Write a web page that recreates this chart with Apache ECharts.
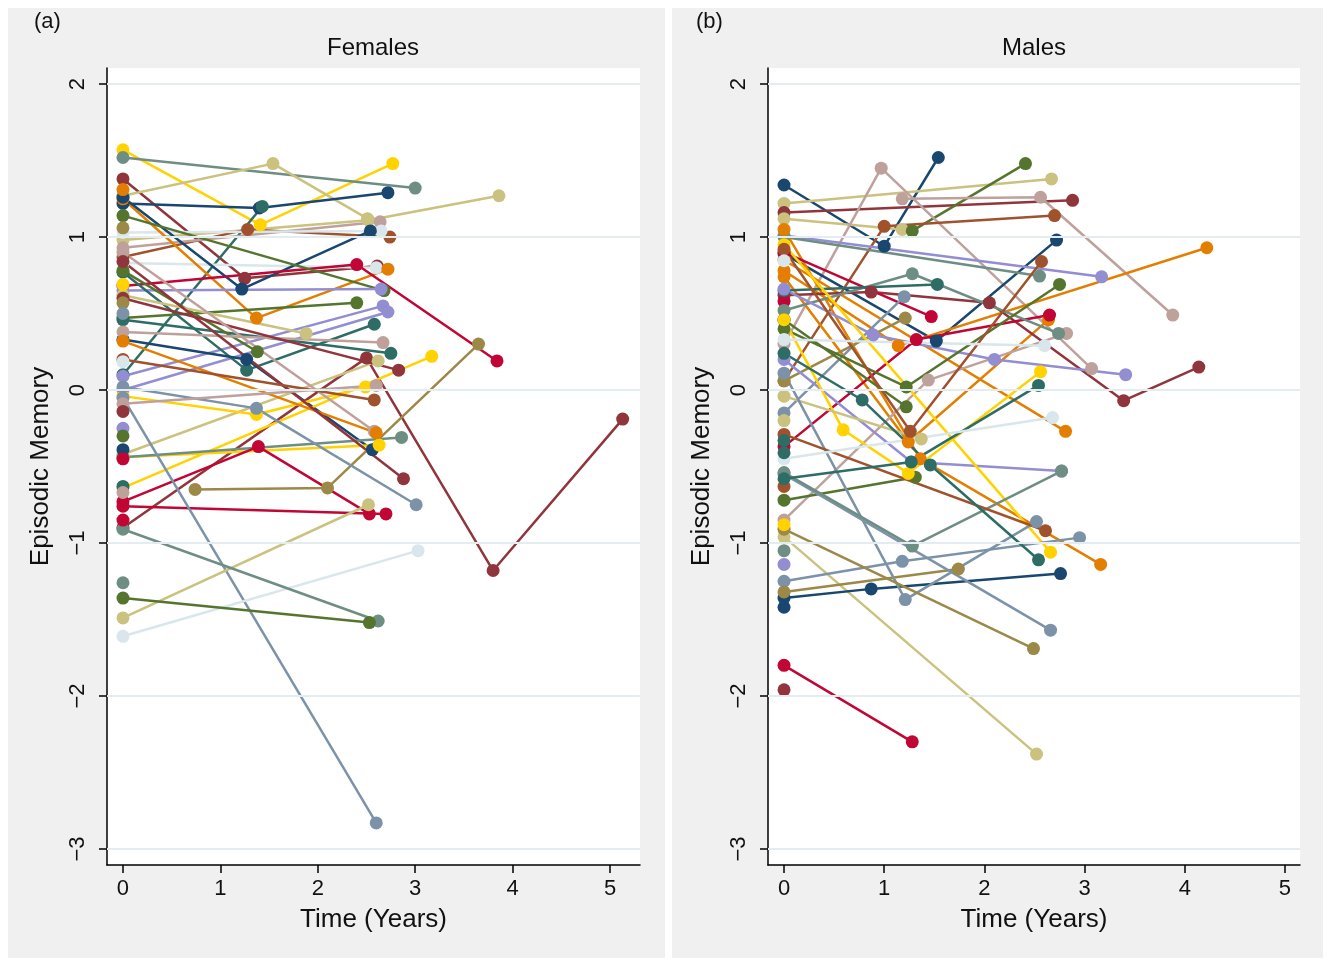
<!DOCTYPE html>
<html><head><meta charset="utf-8">
<script src="https://cdn.jsdelivr.net/npm/echarts@6/dist/echarts.min.js"></script>
<style>html,body{margin:0;padding:0;background:#fff}#c{width:1331px;height:963px}</style>
</head><body><div id="c"></div>
<script>
// Stata s2color palette
const palette = {
  navy:'#1a476f', maroon:'#90353b', forest:'#55752f', dkorange:'#e37e00', teal:'#6e8e84',
  crimson:'#c10534', lavender:'#938dd2', khaki:'#cac27e', sienna:'#a0522d', emidblue:'#7b92a8',
  emerald:'#2d6d66', brown:'#9c8847', erose:'#bfa19c', gold:'#ffd200', bluishgray:'#d9e6eb'
};
const xTicks = [0,1,2,3,4,5];
const yTicks = [-3,-2,-1,0,1,2];
const panelTitles = ['Females','Males'];
const panelTags = ['(a)','(b)'];

// ---------- Females ----------
const femaleColors = ['gold','teal','maroon','khaki','khaki','navy','emerald','sienna','erose','bluishgray',
  'bluishgray','dkorange','navy','crimson','forest','lavender','forest','lavender','lavender','emerald',
  'emerald','navy','forest','khaki','erose','maroon','khaki','maroon','gold','gold',
  'gold','erose','dkorange','teal','crimson','crimson','maroon','brown','emidblue','emidblue',
  'khaki','bluishgray','teal','forest','teal','sienna','erose',
  'gold','brown','brown','emidblue','bluishgray','maroon','lavender','forest','navy','emerald','erose','crimson','crimson','dkorange'];
const femaleTimes = [[0,1.41,2.77],[0,3.0],[0,1.25,2.61],[0,1.54,2.51],[0,2.52,3.86],[0,1.40,2.72],[0,1.43],[0,1.28,2.74],[0,2.64],[0,2.65],
  [0,2.60],[0,1.37,2.72],[0,1.22,2.54],[0,2.40,3.84],[0,2.68],[0,2.65],[0,2.40],[0,2.67],[0,2.72],[0,2.75],
  [0,1.27,2.58],[0,1.27,2.56],[0,1.38],[0,1.88],[0,2.67],[0,2.50,3.80,5.13],[0,2.62],[0,2.83],[0,3.17],[0,1.37,2.49],
  [0,2.63],[0,2.58],[0,2.60],[0,2.86],[0,1.39,2.53],[0,2.70],[0,2.88],[0.74,2.10,3.65],[0,1.37,3.01],[0,2.60],
  [0,2.52],[0,3.03],[0,2.62],[0,2.53],[0],[0,2.58],[0,2.60],
  [0],[0],[0],[0],[0],[0],[0],[0],[0],[0],[0],[0],[0],[0]];
const femaleValues = [[1.57,1.08,1.48],[1.52,1.32],[1.38,0.73,0.81],[1.27,1.48,1.12],[0.98,1.11,1.27],[1.22,1.19,1.29],[0.10,1.20],[0.87,1.05,1.00],[0.93,1.10],[1.03,1.04],
  [0.83,0.80],[1.25,0.47,0.79],[1.26,0.66,1.04],[0.68,0.82,0.19],[1.14,0.65],[0.65,0.66],[0.47,0.57],[0.09,0.55],[0.00,0.51],[0.46,0.24],
  [0.77,0.13,0.43],[0.33,0.20,-0.39],[0.78,0.25],[0.62,0.37],[0.38,0.31],[-0.90,0.21,-1.18,-0.19],[-0.42,0.19],[0.60,0.13],[-0.64,0.22],[-0.04,-0.16,0.02],
  [-0.44,-0.36],[0.90,-0.27],[0.32,-0.28],[-0.44,-0.31],[-0.73,-0.37,-0.81],[-0.76,-0.81],[0.84,-0.58],[-0.65,-0.64,0.30],[0.02,-0.12,-0.75],[-0.05,-2.83],
  [-1.49,-0.75],[-1.61,-1.05],[-0.91,-1.51],[-1.36,-1.52],[-1.26],[0.20,-0.065],[-0.09,0.03],
  [0.69],[1.06],[0.57],[0.50],[0.185],[-0.14],[-0.25],[-0.30],[-0.39],[-0.63],[-0.67],[-0.85],[-0.45],[1.31]];

// ---------- Males ----------
const maleColors = ['navy','khaki','maroon','khaki','forest','erose','erose','sienna','navy','lavender',
  'teal','dkorange','dkorange','dkorange','dkorange','erose','maroon','crimson','crimson','crimson',
  'crimson','teal','emerald','emidblue','brown','lavender','lavender','forest','forest','forest',
  'gold','gold','khaki','khaki','khaki','navy','navy','emidblue','brown','emidblue',
  'emidblue','brown','teal','crimson','maroon','lavender','sienna','sienna','sienna','emerald',
  'emerald','bluishgray','bluishgray','bluishgray','emerald','emerald','gold','teal'];
const maleTimes = [[0,1.0,1.54],[0,2.67],[0,2.88],[0,1.18],[1.28,2.41],[0,0.97,3.07],[1.18,2.56,3.88],[0,1.0,2.70],[0,1.52,2.72],[0,3.17],
  [0,2.55],[0,1.36,3.16],[0,1.24,2.64],[0,2.81],[0,1.14,4.22],[0,1.44,2.82],[0,0.87,2.05,3.39,4.14],[0,1.47],[0,1.32,2.65],[0],
  [0],[0,1.28,2.74],[0,1.53],[0,1.2],[0,1.21],[0,0.89,2.1,3.41],[0,1.27,2.77],[0,1.22,2.75],[0,1.22],[0,1.31],
  [0,2.66],[0,0.59,1.24,2.56],[0,2.52],[0,1.37],[0],[0,0.87,2.76],[0],[0,1.18,2.95],[0,1.74],[0,1.21,2.52],
  [0,2.66],[0,2.49],[0,1.28,2.77],[0,1.28],[0],[0],[0,2.61],[0,1.26,2.57],[0],[0,0.78,1.46,2.54],
  [0,1.27,2.54],[0,2.6],[0,2.68],[0],[0],[0],[0],[0]];
const maleValues = [[1.34,0.94,1.52],[1.22,1.38],[1.16,1.24],[1.12,1.05],[1.04,1.48],[0.30,1.45,0.14],[1.25,1.26,0.49],[0.06,1.07,1.14],[0.89,0.32,0.98],[1.01,0.74],
  [1.00,0.745],[1.05,-0.45,-1.14],[0.74,-0.34,0.46],[0.85,-0.27],[0.78,0.29,0.93],[-0.85,0.065,0.37],[0.62,0.64,0.57,-0.07,0.15],[0.90,0.48],[-0.37,0.33,0.49],[0.58],
  [0.46],[0.52,0.76,0.37],[0.65,0.69],[-0.15,0.61],[0.06,0.47],[0.66,0.36,0.20,0.10],[0.20,-0.47,-0.53],[0.40,0.02,0.69],[0.46,-0.11],[-0.72,-0.57],
  [0.95,-1.06],[0.46,-0.26,-0.545,0.12],[-0.96,-2.38],[-0.04,-0.32],[-0.20],[-1.36,-1.30,-1.20],[-1.42],[-1.25,-1.12,-0.965],[-1.32,-1.17],[0.11,-1.37,-0.86],
  [-0.55,-1.57],[-0.91,-1.69],[-0.54,-1.02,-0.53],[-1.80,-2.30],[-1.96],[-1.14],[-0.29,-0.92],[0.92,-0.27,0.84],[-0.63],[0.24,-0.065,-0.49,-1.11],
  [-0.58,-0.47,0.03],[0.33,0.29],[-0.45,-0.18],[0.845],[-0.33],[-0.41],[-0.88],[-1.05]];

const FONT = 'Liberation Sans, Arial, sans-serif';
const fmt = v => String(v).replace('-', '\u2212');

const grids = [
  {left:107, top:68, width:533, height:797},
  {left:768, top:68, width:532, height:797}
];
const xRanges = [[-0.164, 5.308],[-0.160, 5.15]];
const yRange = [-3.105, 2.105];

function makeAxes(i){
  const x = {
    type:'value', gridIndex:i, min:xRanges[i][0], max:xRanges[i][1],
    name:'Time (Years)', nameLocation:'middle', nameGap:42,
    nameTextStyle:{fontFamily:FONT, fontSize:26, color:'#111'},
    axisLine:{show:true, onZero:false, lineStyle:{color:'#000', width:1.5}},
    axisTick:{show:true, length:8, lineStyle:{color:'#000', width:1.5}, customValues:xTicks},
    axisLabel:{fontFamily:FONT, fontSize:22, color:'#111', margin:13, customValues:xTicks, formatter:fmt},
    splitLine:{show:false}
  };
  const y = {
    type:'value', gridIndex:i, min:yRange[0], max:yRange[1],
    name:'Episodic Memory', nameLocation:'middle', nameGap:53, nameRotate:90,
    nameTextStyle:{fontFamily:FONT, fontSize:26, color:'#111'},
    axisLine:{show:true, onZero:false, lineStyle:{color:'#000', width:1.5}},
    axisTick:{show:true, length:8, lineStyle:{color:'#000', width:1.5}, customValues:yTicks},
    axisLabel:{fontFamily:FONT, fontSize:22, color:'#111', margin:18, rotate:90, customValues:yTicks, formatter:fmt},
    splitLine:{show:false}
  };
  return [x,y];
}

const xAxis = [], yAxis = [], series = [];
[0,1].forEach(i => { const [x,y] = makeAxes(i); xAxis.push(x); yAxis.push(y); });

// gridlines
[0,1].forEach(i => {
  series.push({
    type:'line', xAxisIndex:i, yAxisIndex:i, data:[], silent:true, z:1,
    markLine:{silent:true, symbol:['none','none'], label:{show:false},
      lineStyle:{color:'#e3ecef', width:2, type:'solid'},
      data: yTicks.map(v => ({yAxis:v}))}
  });
});

function addSubjects(colors, times, values, idx){
  colors.forEach((c, k) => {
    const col = palette[c];
    series.push({
      type:'line', xAxisIndex:idx, yAxisIndex:idx, z:2,
      data: times[k].map((t, j) => [t, values[k][j]]),
      symbol:'circle', symbolSize:13, showSymbol:true,
      lineStyle:{color:col, width:2.5},
      itemStyle:{color:col, borderWidth:0},
      emphasis:{disabled:true}, animation:false
    });
  });
}
addSubjects(femaleColors, femaleTimes, femaleValues, 0);
addSubjects(maleColors, maleTimes, maleValues, 1);

const chart = echarts.init(document.getElementById('c'), null, {renderer:'canvas'});
chart.setOption({
  animation:false,
  backgroundColor:'#ffffff',
  grid: grids.map(g => Object.assign({show:true, backgroundColor:'#ffffff', borderWidth:0, containLabel:false, outerBoundsMode:'none'}, g)),
  xAxis, yAxis, series,
  title: [
    {text:panelTitles[0], left:368, top:31, textAlign:'center', textStyle:{fontFamily:FONT, fontSize:24, fontWeight:'normal', color:'#111'}},
    {text:panelTitles[1], left:1029, top:31, textAlign:'center', textStyle:{fontFamily:FONT, fontSize:24, fontWeight:'normal', color:'#111'}},
    {text:panelTags[0], left:29, top:6, textStyle:{fontFamily:FONT, fontSize:22, fontWeight:'normal', color:'#111'}},
    {text:panelTags[1], left:691, top:6, textStyle:{fontFamily:FONT, fontSize:22, fontWeight:'normal', color:'#111'}}
  ],
  graphic: [
    {type:'rect', z:-10, shape:{x:8, y:8, width:657, height:950}, style:{fill:'#f0f0f0'}, silent:true},
    {type:'rect', z:-10, shape:{x:672, y:8, width:651, height:950}, style:{fill:'#f0f0f0'}, silent:true}
  ]
});
</script></body></html>
